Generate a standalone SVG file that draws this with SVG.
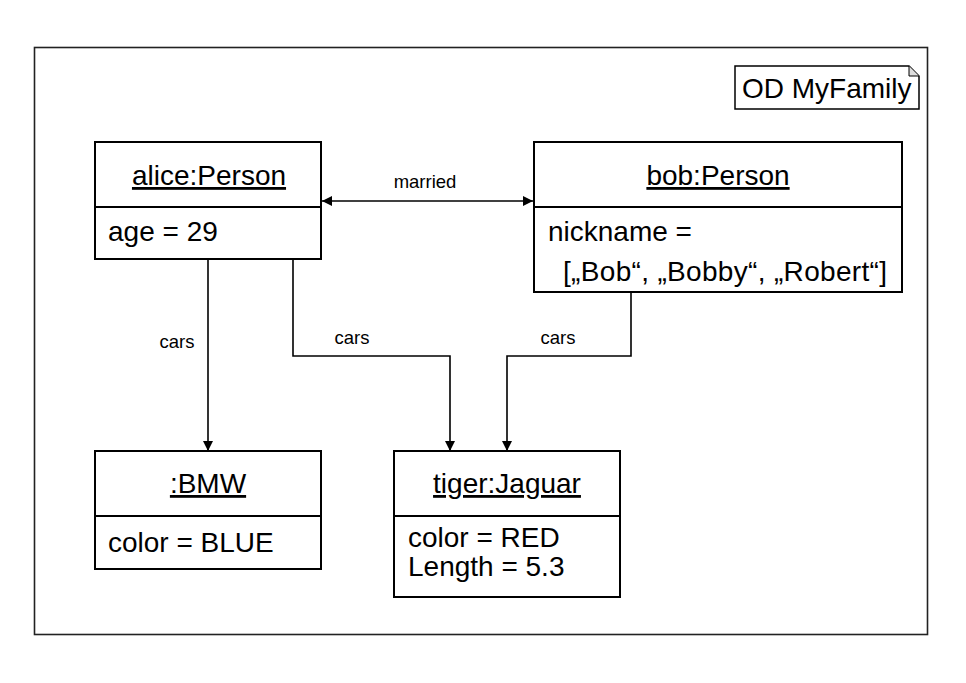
<svg xmlns="http://www.w3.org/2000/svg" width="966" height="683" viewBox="0 0 966 683">
<style>
.box{fill:#fff;stroke:#000;stroke-width:2}
.t{font-family:"Liberation Sans",Arial,sans-serif;font-size:28px;fill:#000}
.ti{text-anchor:middle;text-decoration:underline}
.lbl{font-family:"Liberation Sans",Arial,sans-serif;font-size:18.5px;fill:#000;text-anchor:middle}
.con{fill:none;stroke:#000;stroke-width:1.6}
</style>
<defs>
<marker id="ah" viewBox="0 0 10 10" refX="10" refY="5" markerWidth="10" markerHeight="10" markerUnits="userSpaceOnUse" orient="auto-start-reverse">
<path d="M0,0 L10,5 L0,10 Z" fill="#000"/>
</marker>
</defs>
<rect width="966" height="683" fill="#fff"/>
<rect id="frame" x="34.5" y="47.5" width="893" height="587" fill="none" stroke="#222" stroke-width="1.6"/>
<g id="note">
<path d="M735,66 H909 L919,76 V109 H735 Z" fill="#fff" stroke="#000" stroke-width="1.5"/>
<path d="M909,66 V76 H919" fill="#ddd" stroke="#000" stroke-width="1"/>
<text class="t" x="742" y="98">OD MyFamily</text>
</g>
<g id="connectors">
<line class="con" x1="322" y1="201" x2="533" y2="201" marker-start="url(#ah)" marker-end="url(#ah)"/>
<text class="lbl" x="425" y="188">married</text>
<line class="con" x1="208" y1="260" x2="208" y2="451" marker-end="url(#ah)"/>
<text class="lbl" x="177" y="348">cars</text>
<polyline class="con" points="293,260 293,356 450,356 450,451" marker-end="url(#ah)"/>
<text class="lbl" x="352" y="344">cars</text>
<polyline class="con" points="631,292 631,356 507,356 507,451" marker-end="url(#ah)" stroke="#333"/>
<text class="lbl" x="558" y="344">cars</text>
</g>
<g id="alice">
<rect class="box" x="95" y="142" width="226" height="117"/>
<line x1="95" y1="207" x2="321" y2="207" stroke="#000" stroke-width="2"/>
<text class="t ti" x="209" y="185">alice:Person</text>
<text class="t" x="108" y="241">age = 29</text>
</g>
<g id="bob">
<rect class="box" x="534" y="142" width="368" height="150"/>
<line x1="534" y1="207" x2="902" y2="207" stroke="#000" stroke-width="2"/>
<text class="t ti" x="718" y="185">bob:Person</text>
<text class="t" x="548" y="241">nickname =</text>
<text class="t" x="563" y="281" textLength="324" lengthAdjust="spacing">[„Bob“, „Bobby“, „Robert“]</text>
</g>
<g id="bmw">
<rect class="box" x="95" y="451" width="226" height="118"/>
<line x1="95" y1="516" x2="321" y2="516" stroke="#000" stroke-width="2"/>
<text class="t ti" x="208" y="493">:BMW</text>
<text class="t" x="108" y="552">color = BLUE</text>
</g>
<g id="jaguar">
<rect class="box" x="394" y="451" width="226" height="146"/>
<line x1="394" y1="516" x2="620" y2="516" stroke="#000" stroke-width="2"/>
<text class="t ti" x="507" y="493">tiger:Jaguar</text>
<text class="t" x="408" y="547">color = RED</text>
<text class="t" x="408" y="576">Length = 5.3</text>
</g>
</svg>
